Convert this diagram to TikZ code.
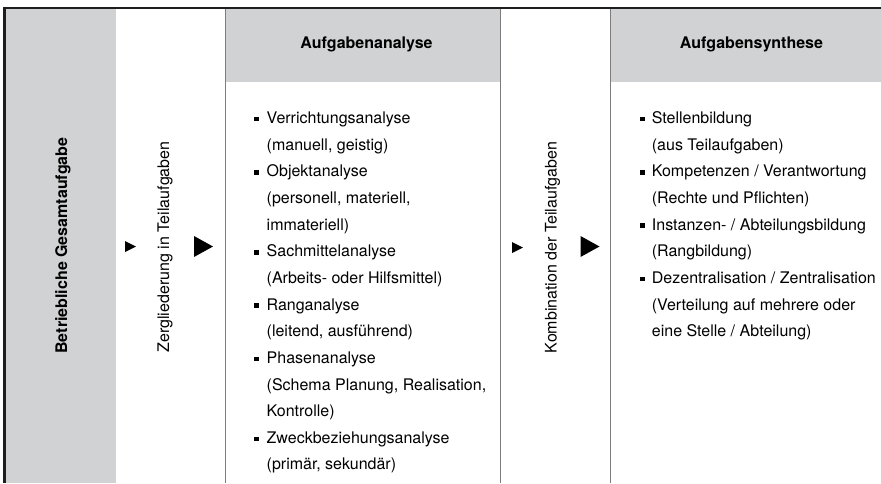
\documentclass[tikz,border=0pt]{standalone}
\usepackage{fontspec}
\setmainfont{TeX Gyre Heros}
\usetikzlibrary{calc}

\definecolor{panelgray}{RGB}{209,210,211}
\definecolor{rulegray}{RGB}{125,125,125}
\definecolor{framedark}{RGB}{30,30,30}

\begin{document}
\begin{tikzpicture}[
    x=1pt,y=-1pt,
    txt/.style={inner sep=0pt,font=\fontsize{16}{19}\selectfont},
    head/.style={inner sep=0pt,anchor=base,font=\fontsize{16}{19}\selectfont\bfseries},
    line/.style={txt,anchor=base west},
    vert/.style={txt,anchor=base,rotate=90},
    bullet/.style={fill=black,inner sep=0pt,minimum size=4.6pt}
    ]

    \useasboundingbox (0,0) rectangle (881,483);

    % shaded areas
    \fill[panelgray] (6,9) rectangle (116,483);
    \fill[panelgray] (225,9) rectangle (500,82);
    \fill[panelgray] (610,9) rectangle (881,82);

    % frame and column rules
    \draw[framedark,line width=2.6pt] (3,8) -- (881,8);
    \draw[framedark,line width=3pt] (4.5,6.7) -- (4.5,483);
    \foreach \x in {225,500,610}
      \draw[rulegray,line width=0.9pt] (\x,9) -- (\x,483);

    \node (analyse) [head] at (366.5,48.5) {Aufgabenanalyse};
    \node (synthese) [head] at (751.5,48.5) {Aufgabensynthese};

    \node (gesamt) [vert,font=\fontsize{16}{19}\selectfont\bfseries] at (67,245.5) {Betriebliche Gesamtaufgabe};
    \node (zerg) [vert] at (169,247) {Zergliederung in Teilaufgaben};
    \node (komb) [vert] at (556.5,247.5) {Kombination der Teilaufgaben};

    \foreach \t [count=\i from 0] in {{Verrichtungsanalyse},{(manuell, geistig)},
        {Objektanalyse},{(personell, materiell,},{immateriell)},
        {Sachmittelanalyse},{(Arbeits- oder Hilfsmittel)},
        {Ranganalyse},{(leitend, ausführend)},
        {Phasenanalyse},{(Schema Planung, Realisation,},{Kontrolle)},
        {Zweckbeziehungsanalyse},{(primär, sekundär)}}
      \node (ana\i) [line] at (266.5,123.5+26.65*\i) {\t};

    \foreach \t [count=\i from 0] in {{Stellenbildung},{(aus Teilaufgaben)},
        {Kompetenzen / Verantwortung},{(Rechte und Pflichten)},
        {Instanzen- / Abteilungsbildung},{(Rangbildung)},
        {Dezentralisation / Zentralisation},{(Verteilung auf mehrere oder},
        {eine Stelle / Abteilung)}}
      \node (syn\i) [line] at (651.7,123.5+26.65*\i) {\t};

    \foreach \i in {0,2,5,7,9,12}
      \node (anab\i) [bullet] at ($(ana\i.base west)+(-10,-4.5)$) {};
    \foreach \i in {0,2,4,6}
      \node (synb\i) [bullet] at ($(syn\i.base west)+(-9.5,-4.5)$) {};

    % arrow heads between the columns
    \foreach \n/\x/\y/\w/\h in {smallA/130.5/246.5/11/11, bigA/203.5/246.5/19/21,
        smallB/517.5/247.5/11/11, bigB/590/246.5/19/21} {
      \coordinate (\n) at (\x,\y);
      \fill (\n) ++({-\w/2},{-\h/2}) -- ++(\w,{\h/2}) -- ++(-\w,{\h/2}) -- cycle;
    }

  \end{tikzpicture}
\end{document}
